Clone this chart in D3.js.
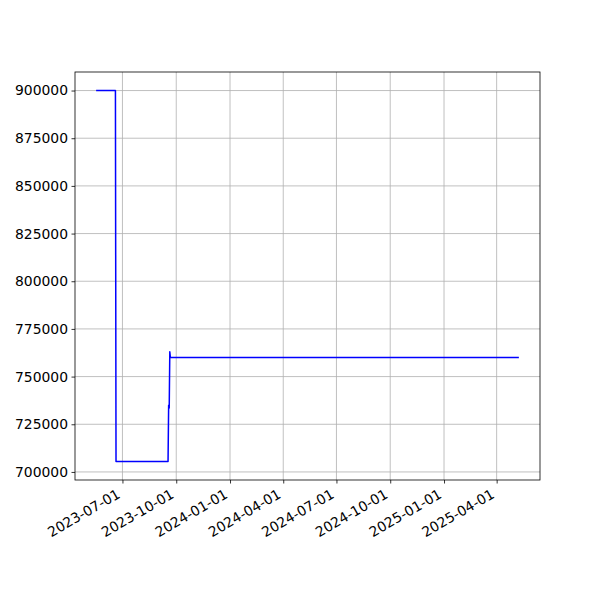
<!DOCTYPE html>
<html>
<head>
<meta charset="utf-8">
<script src="https://cdn.jsdelivr.net/npm/d3@7"></script>
<style>
  html, body { margin: 0; padding: 0; background: #fff; }
  svg { display: block; }
  text { font-family: "DejaVu Sans", sans-serif; }
</style>
</head>
<body>
<svg id="chart" width="600" height="600"></svg>
<script>
// Data (dates and values)
const dates = ["2023-05-17", "2023-06-19", "2023-06-20", "2023-09-17", "2023-09-18", "2023-09-19", "2023-09-20", "2023-09-21", "2025-05-09"];
const values = [900000, 900000, 705500, 705500, 735000, 733500, 763000, 760000, 760000];
const xTickLabels = ["2023-07-01", "2023-10-01", "2024-01-01", "2024-04-01", "2024-07-01", "2024-10-01", "2025-01-01", "2025-04-01"];
const yTickValues = [700000, 725000, 750000, 775000, 800000, 825000, 850000, 875000, 900000];

const parse = d3.utcParse("%Y-%m-%d");
const data = dates.map((d, i) => ({ t: parse(d), v: values[i] }));

const mLeft = 75, mRight = 540, mTop = 72, mBottom = 480;
const svg = d3.select("#chart");

const tExt = d3.extent(data, d => d.t);
const tPad = (tExt[1] - tExt[0]) * 0.05;
const x = d3.scaleUtc()
  .domain([new Date(+tExt[0] - tPad), new Date(+tExt[1] + tPad)])
  .range([mLeft, mRight]);

const vExt = d3.extent(data, d => d.v);
const vPad = (vExt[1] - vExt[0]) * 0.05;
const y = d3.scaleLinear()
  .domain([vExt[0] - vPad, vExt[1] + vPad])
  .range([mBottom, mTop]);

const xTicks = xTickLabels.map(parse);

// grid
const grid = svg.append("g");
grid.selectAll("line.gx").data(xTicks).enter().append("line")
  .attr("x1", d => x(d)).attr("x2", d => x(d))
  .attr("y1", mTop).attr("y2", mBottom)
  .attr("stroke", "#b0b0b0").attr("stroke-width", 0.8);
grid.selectAll("line.gy").data(yTickValues).enter().append("line")
  .attr("x1", mLeft).attr("x2", mRight)
  .attr("y1", d => y(d)).attr("y2", d => y(d))
  .attr("stroke", "#b0b0b0").attr("stroke-width", 0.8);

// line
const line = d3.line().x(d => x(d.t)).y(d => y(d.v));
svg.append("path").datum(data)
  .attr("d", line)
  .attr("fill", "none")
  .attr("stroke", "#0000ff")
  .attr("stroke-width", 1.5)
  .attr("stroke-linejoin", "round");

// axes
const yAxis = d3.axisLeft(y).tickValues(yTickValues).tickSize(3.5).tickPadding(3.5)
  .tickFormat(d3.format("d"));
const yg = svg.append("g").attr("transform", `translate(${mLeft},0)`).call(yAxis);
yg.select(".domain").remove();
yg.selectAll(".tick line").attr("stroke", "#000").attr("stroke-width", 0.8);
yg.selectAll("text").attr("font-size", "13.9px").attr("fill", "#000")
  .attr("font-family", "DejaVu Sans, sans-serif");

const xAxis = d3.axisBottom(x).tickValues(xTicks).tickSize(3.5).tickFormat(d3.utcFormat("%Y-%m-%d"));
const xg = svg.append("g").attr("transform", `translate(0,${mBottom})`).call(xAxis);
xg.select(".domain").remove();
xg.selectAll(".tick line").attr("stroke", "#000").attr("stroke-width", 0.8);
xg.selectAll("text")
  .attr("font-size", "13.9px").attr("fill", "#000")
  .attr("font-family", "DejaVu Sans, sans-serif")
  .attr("text-anchor", "end")
  .attr("dy", null)
  .attr("y", 0)
  .attr("dominant-baseline", "hanging")
  .attr("transform", "translate(-7,8) rotate(-30)");

// spines
svg.append("rect")
  .attr("x", mLeft).attr("y", mTop)
  .attr("width", mRight - mLeft).attr("height", mBottom - mTop)
  .attr("fill", "none").attr("stroke", "#000").attr("stroke-width", 0.8);
</script>
</body>
</html>
